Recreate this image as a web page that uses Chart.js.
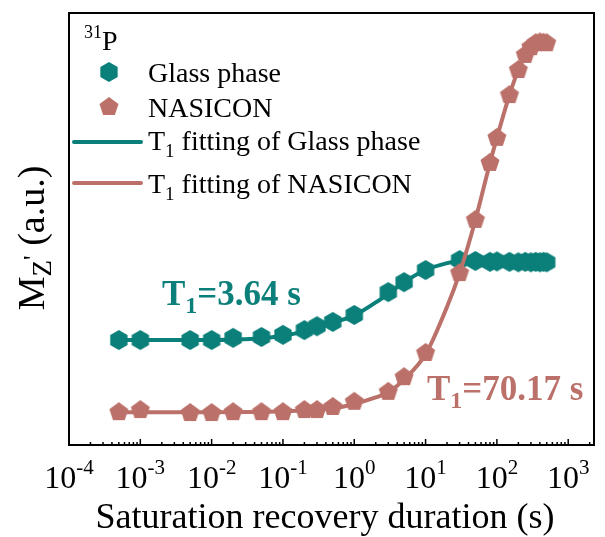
<!DOCTYPE html>
<html>
<head>
<meta charset="utf-8">
<script src="https://cdn.jsdelivr.net/npm/chart.js@4/dist/chart.umd.min.js"></script>
<style>
html,body{margin:0;padding:0;background:#fff;}
</style>
</head>
<body>
<canvas id="chart" width="605" height="537"></canvas>
<script>
// recovery delays (s)
const times=[0.0005,0.001,0.005,0.01,0.02,0.05,0.1,0.2,0.3,0.5,1,3,5,10,30,50,80,100,150,200,250,300,350,400,450,500];
// normalised Mz' (a.u.)
const glass=[0.243,0.243,0.243,0.243,0.248,0.250,0.255,0.266,0.275,0.285,0.301,0.354,0.377,0.405,0.428,0.426,0.424,0.425,0.424,0.423,0.424,0.423,0.424,0.423,0.424,0.423];
const nasicon=[0.076,0.081,0.074,0.074,0.076,0.076,0.076,0.081,0.081,0.088,0.100,0.123,0.157,0.213,0.398,0.521,0.653,0.711,0.810,0.868,0.903,0.921,0.930,0.932,0.931,0.930];
// fitted curves
const glassFitX=[0.0005,0.01,0.05,0.1,0.2,0.5,1,2,3,5,10,20,30,50,100,500];
const glassFitY=[0.243,0.243,0.247,0.253,0.263,0.283,0.300,0.330,0.350,0.377,0.405,0.421,0.426,0.427,0.426,0.426];
const nasiconFitX=[0.0005,0.01,0.1,0.5,1,2,3,5,10,20,30,50,80,100,150,200,300,500];
const nasiconFitY=[0.076,0.076,0.078,0.085,0.095,0.110,0.122,0.152,0.210,0.320,0.398,0.521,0.653,0.711,0.810,0.868,0.920,0.935];
const tickExps=[-4,-3,-2,-1,0,1,2,3];
const labels=["Glass phase","NASICON","fitting of Glass phase","fitting of NASICON"];

const teal="#0b7f79";
const brown="#bb716a";
const serif='"Liberation Serif","Times New Roman",serif';

function polygon(sides,r,color){
    const c=document.createElement("canvas");
    const s=Math.ceil(2*r+2);
    c.width=s;c.height=s;
    const g=c.getContext("2d");
    g.fillStyle=color;
    g.beginPath();
    for(let i=0;i<sides;i++){
        const a=-Math.PI/2+i*2*Math.PI/sides;
        const px=s/2+r*Math.cos(a), py=s/2+r*Math.sin(a);
        if(i===0) g.moveTo(px,py); else g.lineTo(px,py);
    }
    g.closePath();
    g.fill();
    return c;
}
const hexagon=polygon(6,10,teal);
const pentagon=polygon(5,10,brown);

function pts(xs,ys){ return xs.map((x,i)=>({x:x,y:ys[i]})); }

function textWidth(ctx,parts){
    let w=0;
    parts.forEach(p=>{ctx.font=p.font;w+=ctx.measureText(p.t).width;});
    return w;
}
function drawParts(ctx,parts,x,y){
    parts.forEach(p=>{
        ctx.font=p.font;
        ctx.fillText(p.t,x,y+(p.dy||0));
        x+=ctx.measureText(p.t).width;
    });
}

const deco={
    id:"deco",
    afterDatasetsDraw(chart){
        const ctx=chart.ctx, a=chart.chartArea, xs=chart.scales.x;
        ctx.save();
        // frame
        ctx.strokeStyle="#000";
        ctx.lineWidth=2;
        ctx.strokeRect(a.left,a.top,a.right-a.left,a.bottom-a.top);
        // bottom ticks, inward
        ctx.lineWidth=1.5;
        tickExps.forEach(e=>{
            for(let m=1;m<=9;m++){
                const v=m*Math.pow(10,e);
                if(v<xs.min||v>xs.max) continue;
                const px=xs.getPixelForValue(v);
                ctx.beginPath();
                ctx.moveTo(px,a.bottom);
                ctx.lineTo(px,a.bottom-(m===1?6:3));
                ctx.stroke();
            }
        });
        // tick labels
        ctx.fillStyle="#000";
        ctx.textBaseline="alphabetic";
        ctx.textAlign="left";
        tickExps.forEach(e=>{
            const parts=[{t:"10",font:"32px "+serif},{t:String(e),font:"21px "+serif,dy:-14}];
            const w=textWidth(ctx,parts);
            drawParts(ctx,parts,xs.getPixelForValue(Math.pow(10,e))-w/2,488);
        });
        // x title
        ctx.font="36px "+serif;
        ctx.textAlign="center";
        ctx.fillText("Saturation recovery duration (s)",325,528);
        // y title
        ctx.save();
        ctx.translate(44,238);
        ctx.rotate(-Math.PI/2);
        ctx.textAlign="left";
        const yParts=[{t:"M",font:"38px "+serif},{t:"Z",font:"27px "+serif,dy:7},{t:"'",font:"26px "+serif,dy:-3},{t:" (a.u.)",font:"38px "+serif}];
        drawParts(ctx,yParts,-textWidth(ctx,yParts)/2,0);
        ctx.restore();

        // legend
        ctx.textAlign="left";
        drawParts(ctx,[{t:"31",font:"18px "+serif,dy:-12},{t:"P",font:"28px "+serif}],84,50);
        ctx.drawImage(hexagon,109-hexagon.width/2,72-hexagon.height/2);
        ctx.drawImage(pentagon,109-pentagon.width/2,107-pentagon.height/2);
        ctx.font="28px "+serif;
        ctx.fillText(labels[0],148,82);
        ctx.fillText(labels[1],148,117);
        ctx.lineWidth=4;
        ctx.lineCap="round";
        [[teal,142,150,labels[2]],[brown,183,193,labels[3]]].forEach(r=>{
            ctx.strokeStyle=r[0];
            ctx.beginPath();ctx.moveTo(74,r[1]);ctx.lineTo(141,r[1]);ctx.stroke();
            drawParts(ctx,[{t:"T",font:"28px "+serif},{t:"1",font:"19px "+serif,dy:7},{t:" "+r[3],font:"28px "+serif}],148,r[2]);
        });

        // T1 annotations
        ctx.fillStyle=teal;
        drawParts(ctx,[{t:"T",font:"bold 35px "+serif},{t:"1",font:"bold 24px "+serif,dy:8},{t:"=3.64 s",font:"bold 35px "+serif}],162,305);
        ctx.fillStyle=brown;
        drawParts(ctx,[{t:"T",font:"bold 35px "+serif},{t:"1",font:"bold 24px "+serif,dy:8},{t:"=70.17 s",font:"bold 35px "+serif}],427,400);
        ctx.restore();
    }
};

new Chart(document.getElementById("chart"),{
    type:"line",
    data:{
        datasets:[
            {label:labels[3],data:pts(nasiconFitX,nasiconFitY),borderColor:brown,borderWidth:4,pointRadius:0,cubicInterpolationMode:"monotone",fill:false,order:2},
            {label:labels[1],data:pts(times,nasicon),showLine:false,pointStyle:pentagon,pointRadius:10,order:1},
            {label:labels[2],data:pts(glassFitX,glassFitY),borderColor:teal,borderWidth:4,pointRadius:0,cubicInterpolationMode:"monotone",fill:false,order:4},
            {label:labels[0],data:pts(times,glass),showLine:false,pointStyle:hexagon,pointRadius:10,order:3}
        ]
    },
    options:{
        responsive:false,
        animation:false,
        layout:{padding:{left:69,right:6,top:13,bottom:92}},
        plugins:{legend:{display:false},tooltip:{enabled:false}},
        scales:{
            x:{type:"logarithmic",display:false,min:0.0001,max:2300,bounds:"data"},
            y:{type:"linear",display:false,min:0,max:1}
        }
    },
    plugins:[deco]
});
</script>
</body>
</html>
